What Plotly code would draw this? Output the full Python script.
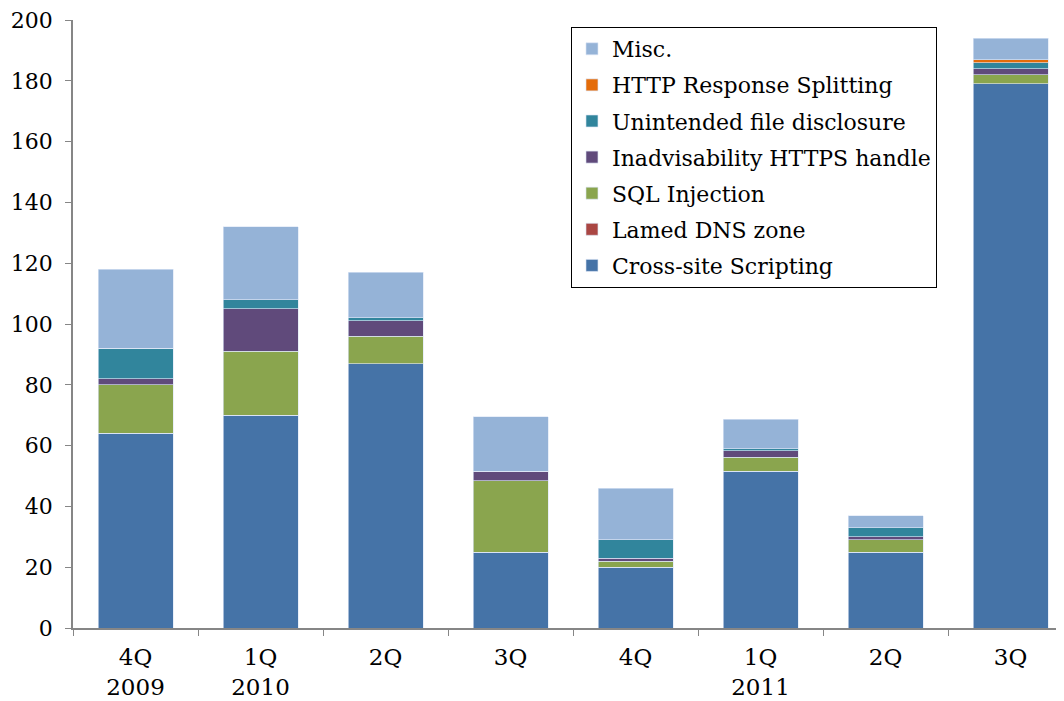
import plotly.graph_objects as go

categories = ["4Q<br>2009", "1Q<br>2010", "2Q", "3Q", "4Q", "1Q<br>2011", "2Q", "3Q"]
cat_ids = ["c0", "c1", "c2", "c3", "c4", "c5", "c6", "c7"]

xss = [64, 70, 87, 25, 20, 51.5, 25, 179]
lamed_dns = [0, 0, 0, 0, 0, 0, 0, 0]
sql = [16, 21, 9, 23.5, 2, 4.6, 4, 3]
https_handle = [2, 14, 5, 3, 1, 2.2, 1, 2]
file_disclosure = [10, 3, 1, 0, 6, 0.6, 3, 2]
http_split = [0, 0, 0, 0, 0, 0, 0, 1]
misc = [26, 24, 15, 18, 17, 9.7, 4, 7]

series = [
    ("Cross-site Scripting", xss, "#4573A7"),
    ("Lamed DNS zone", lamed_dns, "#AA4643"),
    ("SQL Injection", sql, "#8AA54E"),
    ("Inadvisability HTTPS handle", https_handle, "#604A7B"),
    ("Unintended file disclosure", file_disclosure, "#31859C"),
    ("HTTP Response Splitting", http_split, "#E46C0A"),
    ("Misc.", misc, "#95B3D7"),
]

font_family = "DejaVu Serif"

fig = go.Figure()
n = len(series)
for i, (name, vals, color) in enumerate(series):
    fig.add_trace(go.Bar(
        name=name, x=cat_ids, y=vals,
        marker=dict(color=color, line=dict(color="rgba(220,230,245,0.8)", width=0.8)),
        width=0.6, legendgroup=f"g{i}", legendrank=n - i,
    ))

fig.update_layout(
    width=1056, height=693,
    barmode="stack",
    paper_bgcolor="white", plot_bgcolor="white",
    margin=dict(l=65, r=0, t=12, b=73),
    font=dict(family=font_family, size=20, color="black"),
    showlegend=True,
    legend=dict(
        x=0.5025, y=0.9885, xanchor="left", yanchor="top",
        bordercolor="black", borderwidth=1, bgcolor="white",
        traceorder="grouped", tracegroupgap=4.5,
        font=dict(family=font_family, size=22, color="black"),
    ),
    xaxis=dict(
        type="category", categoryorder="array", categoryarray=cat_ids,
        tickvals=cat_ids, ticktext=categories,
        range=[-0.5, 7.428],
        showline=True, linecolor="#868686", linewidth=1.5,
        ticks="outside", ticklen=6, tickcolor="#868686", tickson="boundaries",
        ticklabelstandoff=8,
        showgrid=False, zeroline=False,
        tickfont=dict(family=font_family, size=23, color="black"),
    ),
    yaxis=dict(
        range=[0, 200], dtick=20, tick0=0,
        showline=True, linecolor="#868686", linewidth=1.5,
        ticks="outside", ticklen=6, tickcolor="#868686",
        ticklabelstandoff=8, ticklabeloverflow="allow",
        showgrid=False, zeroline=False,
        tickfont=dict(family=font_family, size=22, color="black"),
    ),
)

fig.write_html("out.html")
